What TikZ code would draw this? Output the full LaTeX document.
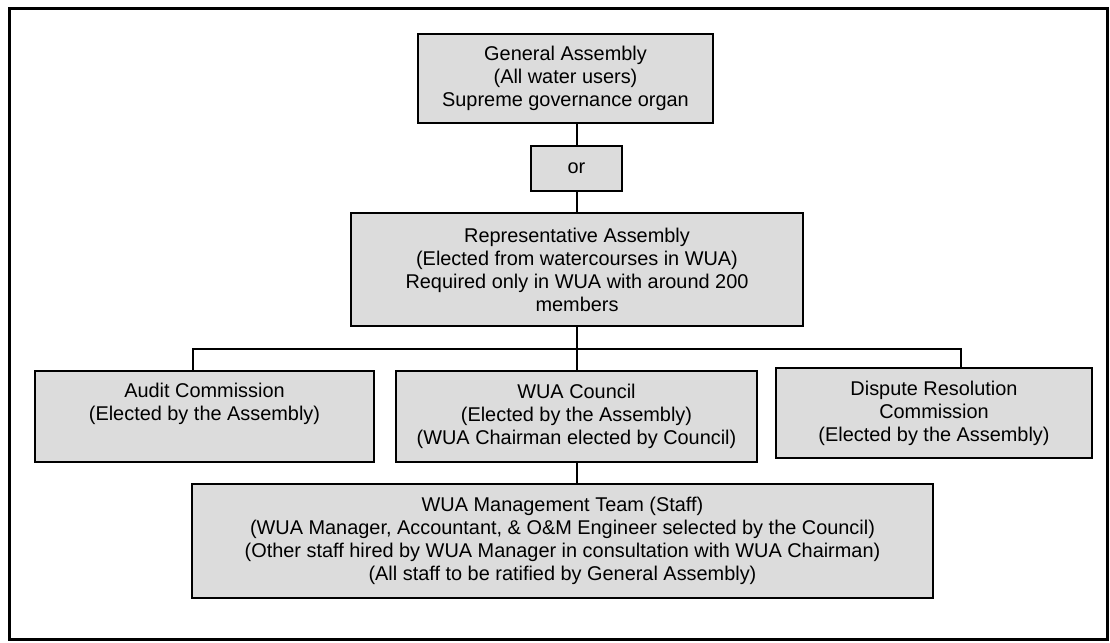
\documentclass[tikz,border=0pt]{standalone}
\usepackage{fontspec}
\setmainfont{Liberation Sans}
\definecolor{boxgray}{HTML}{DCDCDC}
\begin{document}
\begin{tikzpicture}[x=1pt,y=-1pt,
  orgbox/.style={draw=black, line width=2pt, fill=boxgray, align=center, inner sep=0pt,
    font=\fontsize{19.9}{23}\selectfont},
  link/.style={draw=black, line width=2pt},
  frame/.style={draw=black, line width=3pt}]
\useasboundingbox (0,0) rectangle (1110,642);
\draw[frame] (9.5,8.5) rectangle (1107.5,639.5);
\node[orgbox, minimum width=295pt, minimum height=89pt] (ga) at (565.5,78.5)
  {General Assembly\\(All water users)\\Supreme governance organ};
\node[orgbox, minimum width=91pt, minimum height=45pt] (or) at (576.5,168.5) {or};
\node[orgbox, minimum width=452pt, minimum height=113pt] (rep) at (577,269.5)
  {Representative Assembly\\(Elected from watercourses in WUA)\\Required only in WUA with around 200\\members};
\node[orgbox, minimum width=339pt, minimum height=91pt] (audit) at (204.5,416.5)
  {Audit Commission\\(Elected by the Assembly)\\\strut};
\node[orgbox, minimum width=361pt, minimum height=91pt] (council) at (576.5,416.5)
  {WUA Council\\(Elected by the Assembly)\\(WUA Chairman elected by Council)};
\node[orgbox, minimum width=316pt, minimum height=90pt] (dispute) at (934,413)
  {Dispute Resolution\\Commission\\(Elected by the Assembly)};
\node[orgbox, minimum width=741pt, minimum height=114pt] (mgmt) at (562.5,541)
  {WUA Management Team (Staff)\\(WUA Manager, Accountant, \& O\&M Engineer selected by the Council)\\(Other staff hired by WUA Manager in consultation with WUA Chairman)\\(All staff to be ratified by General Assembly)};
\coordinate (hL) at (193,349);
\coordinate (hR) at (961,349);
\draw[link] (or.north) -- (or.north |- ga.south);
\draw[link] (or.south) -- (or.south |- rep.north);
\draw[link] (rep.south -| council.north) -- (council.north);
\draw[link] (audit.north -| hL) -- (hL) -- (hR) -- (dispute.north -| hR);
\draw[link] (council.south) -- (council.south |- mgmt.north);
\end{tikzpicture}
\end{document}
